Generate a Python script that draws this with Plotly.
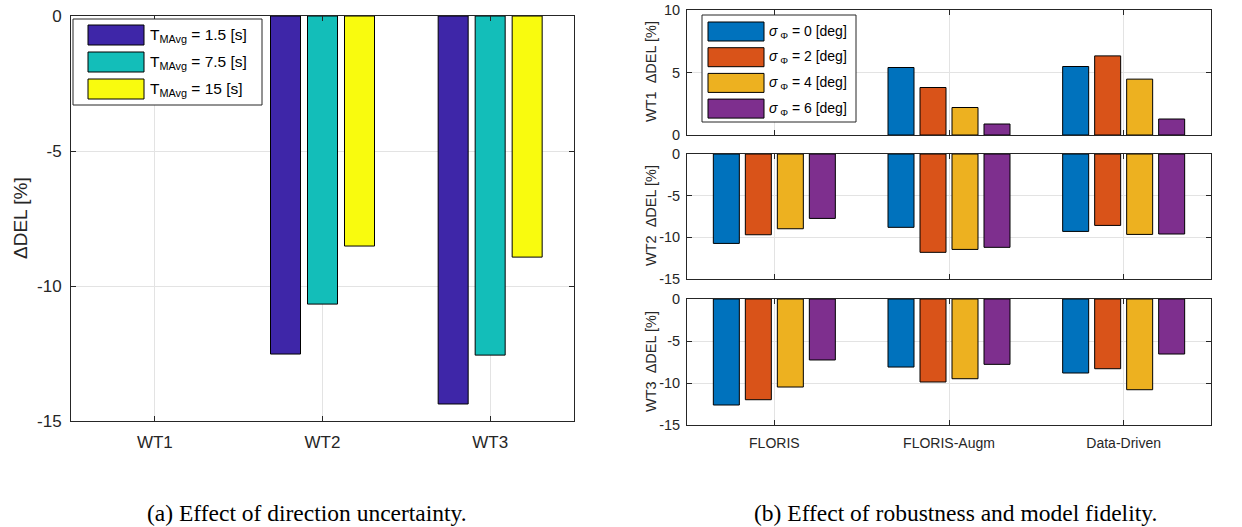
import plotly.graph_objects as go

W, H = 1242, 527

# ---------------- data ----------------
left_categories = ["WT1", "WT2", "WT3"]
left_labels = ["T<sub>MAvg</sub> = 1.5 [s]", "T<sub>MAvg</sub> = 7.5 [s]", "T<sub>MAvg</sub> = 15 [s]"]
del_T1p5 = [0.0, -12.52, -14.37]
del_T7p5 = [0.0, -10.67, -12.56]
del_T15 = [0.0, -8.52, -8.93]
left_colors = ["#3e26a8", "#13beb9", "#f9fb0e"]

right_categories = ["FLORIS", "FLORIS-Augm", "Data-Driven"]
sigma_labels = ["<i>σ</i><sub> Φ</sub> = 0 [deg]", "<i>σ</i><sub> Φ</sub> = 2 [deg]",
                "<i>σ</i><sub> Φ</sub> = 4 [deg]", "<i>σ</i><sub> Φ</sub> = 6 [deg]"]
right_colors = ["#0072bd", "#d95319", "#edb120", "#7e2f8e"]

wt1_sig0 = [0.0, 5.40, 5.48]
wt1_sig2 = [0.0, 3.80, 6.33]
wt1_sig4 = [0.0, 2.20, 4.47]
wt1_sig6 = [0.0, 0.88, 1.28]

wt2_sig0 = [-10.73, -8.80, -9.29]
wt2_sig2 = [-9.69, -11.80, -8.57]
wt2_sig4 = [-8.97, -11.45, -9.65]
wt2_sig6 = [-7.73, -11.20, -9.60]

wt3_sig0 = [-12.62, -8.10, -8.81]
wt3_sig2 = [-11.99, -9.88, -8.30]
wt3_sig4 = [-10.48, -9.49, -10.80]
wt3_sig6 = [-7.26, -7.78, -6.55]

# ---------------- helpers ----------------
def px(x):
    return x / W

def py(y):
    return 1 - y / H

AX = "#262626"
GRID = "#e3e3e3"
FONT = "Liberation Sans, Arial, sans-serif"
SERIF = "Liberation Serif, Times New Roman, serif"

fig = go.Figure()

def edge_widths(vals):
    return [0 if v == 0 else 1 for v in vals]

# left panel bars
left_unit = 503 / 3.0
lw = 30 / left_unit
lp = 37 / left_unit
for i, (vals, name, col) in enumerate(zip([del_T1p5, del_T7p5, del_T15], left_labels, left_colors)):
    fig.add_trace(go.Bar(
        x=left_categories, y=vals, name=name,
        marker=dict(color=col, line=dict(color="black", width=edge_widths(vals))),
        width=lw, offset=(i - 1) * lp - lw / 2, xaxis="x", yaxis="y", showlegend=False))

# right panels bars
right_unit = 524 / 3.0
rw = 26 / right_unit
rp = 32 / right_unit
panels = [
    ("x2", "y2", [wt1_sig0, wt1_sig2, wt1_sig4, wt1_sig6]),
    ("x3", "y3", [wt2_sig0, wt2_sig2, wt2_sig4, wt2_sig6]),
    ("x4", "y4", [wt3_sig0, wt3_sig2, wt3_sig4, wt3_sig6]),
]
for xa, ya, series in panels:
    for i, (vals, name, col) in enumerate(zip(series, sigma_labels, right_colors)):
        fig.add_trace(go.Bar(
            x=right_categories, y=vals, name=name,
            marker=dict(color=col, line=dict(color="black", width=edge_widths(vals))),
            width=rw, offset=(i - 1.5) * rp - rw / 2, xaxis=xa, yaxis=ya, showlegend=False))

common_x = dict(type="category", showgrid=True, gridcolor=GRID, gridwidth=1, showline=True,
                linecolor=AX, linewidth=1, mirror="ticks", ticks="inside", ticklen=5,
                tickcolor=AX, zeroline=False, range=[-0.5, 2.5], automargin=False)
common_y = dict(showgrid=True, gridcolor=GRID, gridwidth=1, showline=True, linecolor=AX,
                linewidth=1, mirror="ticks", ticks="inside", ticklen=5, tickcolor=AX,
                zeroline=False, automargin=False)

neg_vals = [-15, -10, -5, 0]
neg_text = ["-15", "-10", "-5", "0"]

layout = dict(
    width=W, height=H, margin=dict(l=0, r=0, t=0, b=0),
    paper_bgcolor="white", plot_bgcolor="white", barmode="overlay",
    font=dict(family=FONT, color=AX),
    xaxis=dict(common_x, domain=[px(71), px(574)], anchor="y",
               tickfont=dict(size=17, color=AX), ticklabelstandoff=6),
    yaxis=dict(common_y, domain=[py(421), py(16)], anchor="x", range=[-15, 0],
               tickvals=neg_vals, ticktext=neg_text, tickfont=dict(size=17, color=AX),
               ticklabelstandoff=5),
    xaxis2=dict(common_x, domain=[px(687), px(1211)], anchor="y2", showticklabels=False),
    yaxis2=dict(common_y, domain=[py(135), py(10)], anchor="x2", range=[0, 10],
                tickvals=[0, 5, 10], ticktext=["0", "5", "10"], tickfont=dict(size=14.5, color=AX),
                ticklabelstandoff=3),
    xaxis3=dict(common_x, domain=[px(687), px(1211)], anchor="y3", showticklabels=False),
    yaxis3=dict(common_y, domain=[py(279), py(154)], anchor="x3", range=[-15, 0],
                tickvals=neg_vals, ticktext=neg_text, tickfont=dict(size=14.5, color=AX),
                ticklabelstandoff=3),
    xaxis4=dict(common_x, domain=[px(687), px(1211)], anchor="y4",
                tickfont=dict(size=14, color=AX), ticklabelstandoff=5),
    yaxis4=dict(common_y, domain=[py(425), py(299)], anchor="x4", range=[-15, 0],
                tickvals=neg_vals, ticktext=neg_text, tickfont=dict(size=14.5, color=AX),
                ticklabelstandoff=3),
)
fig.update_layout(**layout)

shapes = []
annotations = []

# axis titles
annotations.append(dict(x=px(21), y=py(218), xref="paper", yref="paper", text="ΔDEL [%]",
                        textangle=-90, showarrow=False, font=dict(size=19, color=AX),
                        xanchor="center", yanchor="middle"))
for txt, yc in [("WT1  ΔDEL [%]", 72), ("WT2  ΔDEL [%]", 216), ("WT3  ΔDEL [%]", 362)]:
    annotations.append(dict(x=px(651), y=py(yc), xref="paper", yref="paper", text=txt,
                            textangle=-90, showarrow=False, font=dict(size=14.5, color=AX),
                            xanchor="center", yanchor="middle"))

# captions
annotations.append(dict(x=px(307), y=py(513), xref="paper", yref="paper",
                        text="(a) Effect of direction uncertainty.", showarrow=False,
                        font=dict(family=SERIF, size=23.5, color="black"),
                        xanchor="center", yanchor="middle"))
annotations.append(dict(x=px(955), y=py(513), xref="paper", yref="paper",
                        text="(b) Effect of robustness and model fidelity.", showarrow=False,
                        font=dict(family=SERIF, size=23.5, color="black"),
                        xanchor="center", yanchor="middle"))

# left legend
shapes.append(dict(type="rect", xref="paper", yref="paper", x0=px(73), x1=px(262), y0=py(105), y1=py(19),
                   fillcolor="white", line=dict(color=AX, width=1), layer="above"))
for k, (name, col) in enumerate(zip(left_labels, left_colors)):
    yc = 35 + 27 * k
    shapes.append(dict(type="rect", xref="paper", yref="paper", x0=px(88), x1=px(144),
                       y0=py(yc + 10), y1=py(yc - 10), fillcolor=col,
                       line=dict(color="black", width=1), layer="above"))
    annotations.append(dict(x=px(148), y=py(yc), xref="paper", yref="paper", text=name,
                            showarrow=False, font=dict(size=15.5, color="black"),
                            xanchor="left", yanchor="middle"))

# right legend
shapes.append(dict(type="rect", xref="paper", yref="paper", x0=px(702), x1=px(856), y0=py(122), y1=py(15),
                   fillcolor="white", line=dict(color=AX, width=1), layer="above"))
for k, (name, col) in enumerate(zip(sigma_labels, right_colors)):
    yc = 31.5 + 25.7 * k
    shapes.append(dict(type="rect", xref="paper", yref="paper", x0=px(708), x1=px(764),
                       y0=py(yc + 9.5), y1=py(yc - 9.5), fillcolor=col,
                       line=dict(color="black", width=1), layer="above"))
    annotations.append(dict(x=px(767), y=py(yc), xref="paper", yref="paper", text=name,
                            showarrow=False, font=dict(size=14, color="black"),
                            xanchor="left", yanchor="middle"))

fig.update_layout(shapes=shapes, annotations=annotations)
fig.write_html("out.html", config={"displayModeBar": False},
               post_script="document.body.style.margin='0';document.body.style.padding='0';")
